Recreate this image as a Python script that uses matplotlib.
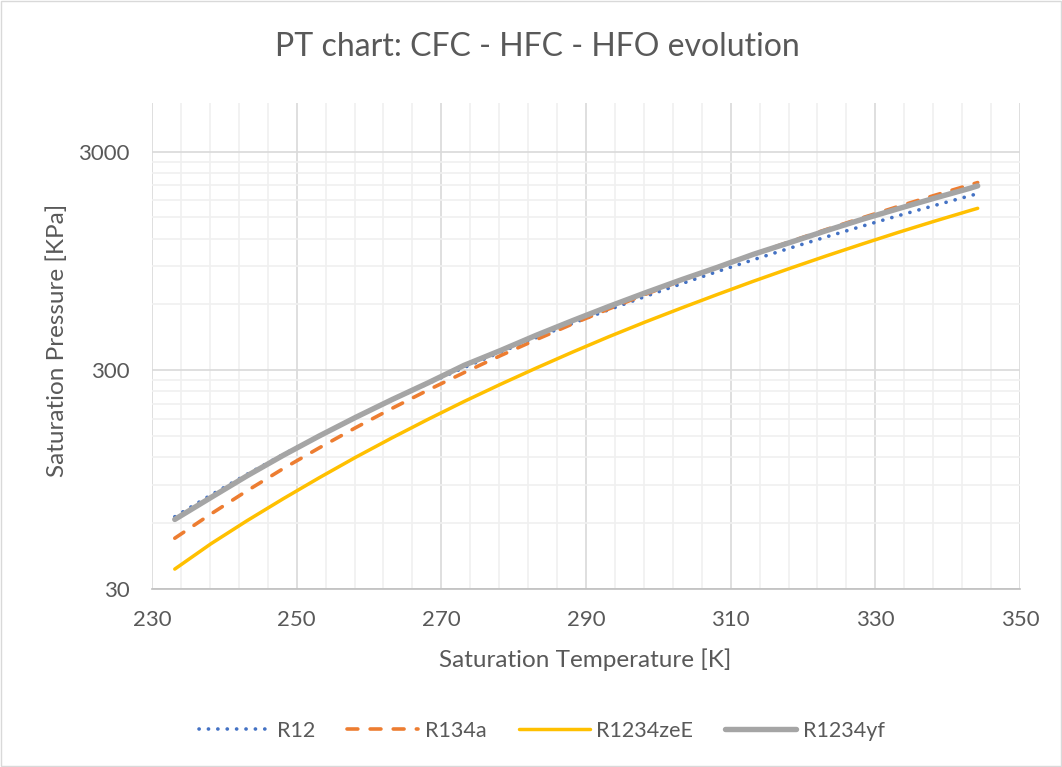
import matplotlib
matplotlib.use("Agg")
import matplotlib.pyplot as plt
from matplotlib.ticker import FixedLocator, NullFormatter, FixedFormatter
from matplotlib.patches import Rectangle

# Saturation temperatures [K]
temps = [233.15, 238.15, 243.15, 248.15, 253.15, 258.15, 263.15, 268.15, 273.15,
         278.15, 283.15, 288.15, 293.15, 298.15, 303.15, 308.15, 313.15, 318.15,
         323.15, 328.15, 333.15, 338.15, 343.15, 344.15]

# Saturation pressures [kPa]
r12 = [64.2, 80.7, 100.4, 123.7, 150.9, 182.6, 219.1, 260.9, 308.6,
       362.6, 423.3, 491.4, 567.2, 651.6, 744.9, 847.7, 960.7, 1084.3,
       1219.3, 1366.3, 1525.9, 1698.8, 1885.8, 1925.0]
r134a = [51.2, 66.1, 84.4, 106.6, 132.7, 163.9, 200.6, 243.4, 292.8,
         349.6, 414.6, 488.7, 572.1, 665.8, 770.2, 887.0, 1016.6, 1160.2,
         1318.1, 1491.6, 1681.8, 1889.7, 2116.2, 2164.0]
r1234zeE = [37.0, 48.3, 61.6, 77.6, 96.9, 120.0, 147.1, 178.9, 216.0,
            258.5, 307.4, 363.4, 427.0, 498.0, 577.0, 666.0, 766.0, 876.0,
            998.0, 1132.0, 1280.0, 1440.0, 1614.0, 1650.0]
r1234yf = [62.4, 78.6, 98.8, 122.6, 150.4, 182.7, 220.0, 262.6, 316.0,
           369.0, 434.0, 506.0, 587.0, 677.0, 777.0, 886.0, 1017.0, 1150.0,
           1302.0, 1468.0, 1643.0, 1835.0, 2041.0, 2090.0]

series_names = ["R12", "R134a", "R1234zeE", "R1234yf"]
x_ticks = [230, 250, 270, 290, 310, 330, 350]
y_ticks = [30, 300, 3000]

plt.rcParams['font.family'] = ['Lato', 'DejaVu Sans']
txt = "#595959"

fig = plt.figure(figsize=(10.62, 7.67), dpi=100)
fig.patches.append(Rectangle((0.001, 0.001), 0.998, 0.998, transform=fig.transFigure,
                             fill=False, edgecolor="#D9D9D9", linewidth=1.0))
ax = fig.add_axes([152/1062, 1-589/767, 868/1062, 486/767])

ax.plot(temps, r12, color="#4472C4", lw=2.6, linestyle=(0, (0.05, 2.55)),
        dash_capstyle="round", solid_capstyle="round", label=series_names[0], zorder=3)
ax.plot(temps, r134a, color="#ED7D31", lw=2.6, linestyle=(0, (3.0, 3.4)),
        dash_capstyle="round", label=series_names[1], zorder=4)
ax.plot(temps, r1234zeE, color="#FFC000", lw=2.5, solid_capstyle="round",
        label=series_names[2], zorder=5)
ax.plot(temps, r1234yf, color="#A5A5A5", lw=3.9, solid_capstyle="round",
        label=series_names[3], zorder=6)

ax.set_yscale("log")
ax.set_xlim(230, 350)
ax.set_ylim(30, 5000)

ax.xaxis.set_major_locator(FixedLocator(x_ticks))
ax.xaxis.set_minor_locator(FixedLocator([v for v in range(230, 351, 4) if v not in x_ticks]))
ax.yaxis.set_major_locator(FixedLocator(y_ticks))
ax.yaxis.set_major_formatter(FixedFormatter([str(v) for v in y_ticks]))
ax.yaxis.set_minor_locator(FixedLocator([30 * k for k in range(2, 10)] + [300 * k for k in range(2, 10)]))
ax.yaxis.set_minor_formatter(NullFormatter())

ax.grid(which="major", color="#D9D9D9", lw=1.2, zorder=0)
ax.grid(which="minor", color="#F0F0F0", lw=1.2, zorder=0)
ax.set_axisbelow(True)

for s in ["top", "right", "left"]:
    ax.spines[s].set_visible(False)
ax.spines["bottom"].set_color("#BFBFBF")
ax.spines["bottom"].set_linewidth(1.2)

ax.tick_params(which="both", length=0, colors=txt, labelsize=16)
ax.tick_params(axis="x", pad=15)
ax.tick_params(axis="y", pad=16)

fig.text(585/1062, 1-660/767, "Saturation Temperature [K]", ha="center", va="center",
         fontsize=17.5, color=txt)
fig.text(57/1062, 1-340/767, "Saturation Pressure [KPa]", ha="center", va="center",
         fontsize=17.5, color=txt, rotation=90)

fig.text(537/1062, 1-47/767, "PT chart: CFC - HFC - HFO evolution", ha="center", va="center",
         fontsize=23, color=txt)

leg = fig.legend(loc="center", bbox_to_anchor=(542/1062, 1-731/767), ncol=4, frameon=False,
                 fontsize=15.5, handlelength=3.3, columnspacing=1.5, handletextpad=0.3,
                 labelcolor=txt)

fig.savefig("out.png", dpi=100)
